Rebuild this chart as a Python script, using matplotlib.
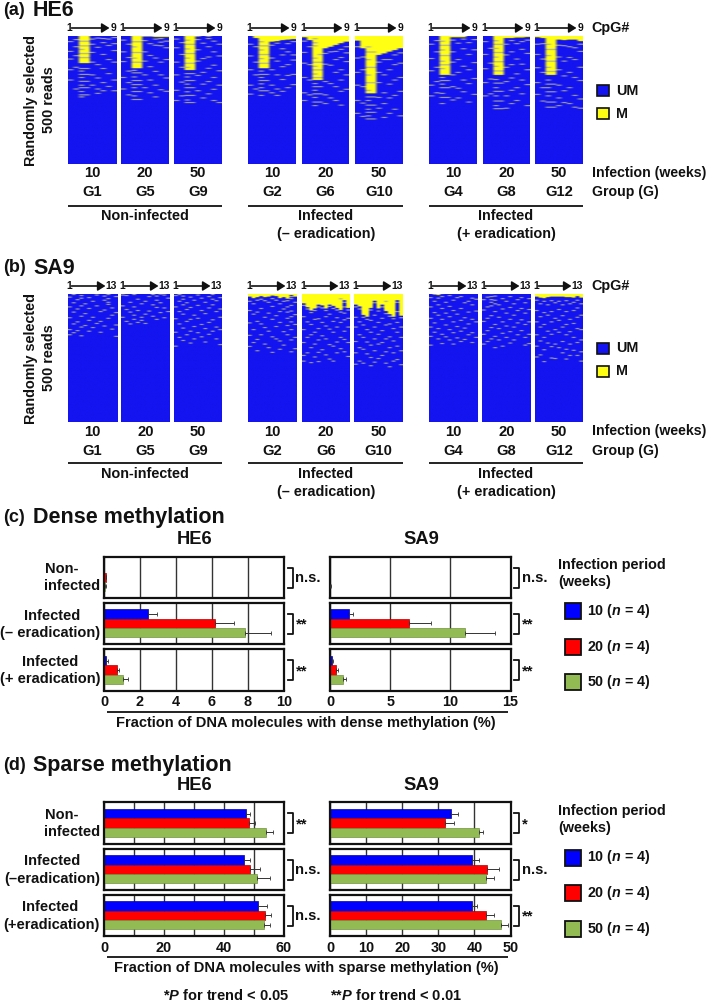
import numpy as np
import matplotlib
matplotlib.use("Agg")
import matplotlib.pyplot as plt
from matplotlib.colors import ListedColormap
from matplotlib.patches import Rectangle

plt.rcParams['font.family'] = ['Liberation Sans', 'DejaVu Sans']
plt.rcParams['font.weight'] = 'bold'
plt.rcParams['mathtext.fontset'] = 'custom'
plt.rcParams['mathtext.rm'] = 'Liberation Sans:bold'
plt.rcParams['mathtext.bf'] = 'Liberation Sans:bold'
plt.rcParams['mathtext.it'] = 'Liberation Sans:bold:italic'

W, H = 709, 1002
BLUE, MIXED, YELLOW = '#1414f0', '#b4b498', '#ffff14'
C10, C20, C50 = '#0000ff', '#ff0000', '#92bb54'
TXT = '#111111'

# ---------- data: bisulfite read maps (read index, 0-499, per CpG) ----------
weeks = ['10', '20', '50']
groups_nonif = ['G1', 'G5', 'G9']
groups_inf = ['G2', 'G6', 'G10']
groups_erad = ['G4', 'G8', 'G12']

# solid methylated depth from the top, per CpG
he6_depth = {
 'G1': [0, 0, 106, 106, 0, 0, 0, 0, 0],
 'G5': [0, 0, 126, 126, 2, 2, 4, 4, 4],
 'G9': [0, 0, 133, 133, 2, 0, 2, 0, 0],
 'G2': [0, 8, 126, 126, 22, 20, 16, 14, 12],
 'G6': [5, 16, 172, 172, 48, 42, 35, 28, 22],
 'G10': [18, 48, 224, 224, 74, 68, 61, 55, 48],
 'G4': [0, 0, 152, 152, 5, 5, 5, 0, 0],
 'G8': [0, 0, 152, 152, 8, 8, 6, 6, 4],
 'G12': [5, 8, 152, 152, 14, 16, 14, 14, 20],
}
# scattered methylated reads, per CpG (inside a solid block they read as gaps)
he6_sparse = {
 'G1': [[20,58,88,130,170],[12,40,75,120,205],[18,36,50,66,82,125,135,148,160,175,190,200,215,228,236],
        [18,36,66,82,125,148,175,200,228],[10,30,62,100,150,190],[6,42,110,162,205,222],[8,24,70,125,180,212],[10,35,90,145,195],[4,28,55,100,170,212]],
 'G5': [[14,60,98,160,205],[30,82,135,180,228],[20,40,62,84,100,132,142,158,172,188,200,215,232,246],
        [20,62,100,142,172,188,215,246],[16,60,96,150,200],[28,74,118,170,220],[10,34,84,136,190,236],[8,22,36,100,150,208],[18,44,90,162,214]],
 'G9': [[10,44,100,150,210,250],[24,70,120,178,232],[14,30,48,66,84,104,120,145,158,172,186,200,216,230,248,258],
        [30,66,104,145,172,200,230,258],[12,52,96,152,212],[26,86,140,186,240],[8,40,80,124,176,224],[18,60,112,160,206,250],[30,76,134,190,258]],
 'G2': [[30,76,130,190,225],[40,100,150,205],[20,36,52,70,86,104,135,148,160,172,185,200,212,230],
        [36,70,104,148,172,212],[34,84,130,190,220],[26,96,150,205,230],[48,72,118,168,214],[28,60,110,152,200],[20,72,92,148,188]],
 'G6': [[18,62,104,160,220,250],[40,110,170,228],[8,24,36,84,100,116,130,146,160,184,196,210,224,238,256,270],
        [70,100,130,160,196,224,256],[66,108,176,228,262],[60,112,184,240],[58,90,140,196,250],[50,82,130,170,214,268],[40,64,98,150,206]],
 'G10': [[40,84,140,190,250,300],[80,130,196,260,312],[40,60,90,120,150,180,210,236,250,268,284,296,310,322],
         [60,120,180,236,268,296,322],[100,140,180,238,280],[90,150,220,262,316],[90,130,186,240,300],[72,110,170,230,284],[64,104,160,214,310]],
 'G4': [[30,86,134,190,232],[16,60,120,176,220],[18,34,52,74,96,110,125,160,172,186,200,222,238,262],
        [34,74,110,172,200,238],[14,60,100,150,196,248],[26,90,140,202,240],[10,48,116,170,216],[24,70,130,184,256],[12,52,102,164,226]],
 'G8': [[20,70,126,180,232],[46,104,166,224],[16,30,46,62,80,98,116,134,168,182,200,214,232,252,270,282],
        [30,62,98,134,182,214,252,282],[30,72,120,176,232,280],[16,60,110,162,210,262],[28,88,146,200,250],[20,50,108,170,224],[14,66,130,188,270]],
 'G12': [[30,70,122,180,226],[28,88,140,200,252],[30,50,74,96,120,136,170,186,200,216,232,256,276],
         [50,96,136,186,216,256,276],[34,80,130,190,240,270],[36,96,154,212,258],[40,82,140,200,262],[44,90,160,230,276],[30,58,120,172,244,280]],
}
sa9_depth = {
 'G1': [0]*13, 'G5': [0]*13, 'G9': [0]*13,
 'G2': [14, 20, 16, 12, 16, 14, 10, 12, 20, 16, 22, 8, 14],
 'G6': [40, 55, 68, 60, 45, 48, 60, 45, 50, 58, 66, 28, 58],
 'G10': [45, 52, 85, 92, 58, 30, 60, 45, 70, 82, 92, 28, 88],
 'G4': [3, 6, 8, 4, 0, 0, 2, 0, 3, 2, 0, 3, 2],
 'G8': [2, 0, 4, 2, 2, 0, 2, 0, 0, 0, 2, 0, 2],
 'G12': [14, 18, 20, 16, 14, 14, 14, 14, 16, 16, 18, 12, 18],
}
sa9_sparse = {
 'G1': [[14,52,94,140,160],[4,36,72,118,152],[24,60,110,144],[8,18,48,88,130,164],[40,78,124],[16,58,104,146],[30,92,132],[6,48,116],[70,108,150],[10,26,64,126],[4,20,34,42,96],[56,84,138],[12,74,122,166]],
 'G5': [[6,48,92],[8,62,108],[34,72,118],[4,52,84,100],[22,66,112],[40,92,104],[30,80,116],[12,68],[4,44,88],[10,26,54,100],[2,36,74],[6,56,94],[18,70]],
 'G9': [[8,52,98,150,204],[4,30,70,118,170],[10,22,44,80,134,182],[36,62,108,160],[14,54,100,146,192],[26,84,128,176],[6,46,96,152],[18,66,120,168],[34,78,136,188],[12,56,112,158],[4,22,44,102,146],[28,70,130,176],[16,60,92,140,198]],
 'G2': [[30,66,114,162,205],[40,80,140,190],[26,72,108,178,222],[22,58,118,160],[28,92,132,196],[34,76,146,210],[20,50,100,168,228],[26,86,128,176],[40,70,112,184,216],[30,60,148,200],[28,52,72,96,124,160],[12,20,46,68,90,110,140,180,226],[34,82,120,170,214]],
 'G6': [[46,90,140,190,240,262],[60,110,170,230],[74,120,160,210,268],[66,100,150,196,246],[52,98,136,180,228,264],[56,112,164,218],[66,90,126,176,238],[50,80,138,198,254],[58,108,150,204,262],[64,94,130,188,230],[20,72,112,170,214],[34,52,76,102,146,178,226],[64,96,130,190,244]],
 'G10': [[52,92,130,186,230,274],[60,110,160,210,262],[92,122,170,216,270],[100,140,188,234],[64,104,150,200,248,280],[36,84,130,176,222,266],[68,112,158,196,252],[52,96,144,190,240],[30,78,122,176,226,270],[88,118,168,210,284],[98,136,184,230,262],[34,70,112,150,204,256],[94,130,170,222,276]],
 'G4': [[16,52,96,130,166,200],[30,74,114,150],[18,44,84,136,176],[12,58,100,158,194],[34,76,122,168],[8,50,90,140,180],[26,66,110,152,196],[16,80,128,172],[12,58,104,146,186],[36,94,134,178],[30,72,118,160],[18,44,100,152,190],[22,68,110,170]],
 'G8': [[24,64,108,158,196],[14,52,96,144,186],[12,24,34,48,86,132,176],[10,26,40,70,120,166,210],[44,92,136,180],[20,60,110,154,204],[30,76,126,170],[12,54,100,148,192],[40,84,130,180],[24,66,114,160],[16,58,102,144],[36,76,120,170,200],[20,62,110,158,194]],
 'G12': [[26,66,110,160,204,246],[40,90,130,184,238],[30,74,120,170,218,264],[44,84,146,192],[28,70,110,158,206,250],[36,96,140,196,252],[30,62,104,150,210],[44,86,130,186,230],[28,70,120,160,216,254],[40,100,148,196,240],[34,66,116,170,220],[26,56,92,136,190,240],[40,84,140,180,226,262]],
}

# ---------- data: bar charts ----------
conditions = ['Non-infected', 'Infected (- eradication)', 'Infected (+ eradication)']
dense_he6 = [[0.0, 0.09, 0.06], [2.45, 6.15, 7.85], [0.13, 0.72, 1.08]]
dense_he6_err = [[0.0, 0.04, 0.03], [0.52, 1.05, 1.4], [0.07, 0.13, 0.27]]
dense_sa9 = [[0.0, 0.0, 0.03], [1.55, 6.6, 11.2], [0.2, 0.47, 1.05]]
dense_sa9_err = [[0.0, 0.0, 0.02], [0.35, 1.8, 2.55], [0.05, 0.18, 0.25]]
sparse_he6 = [[47.2, 48.4, 53.9], [46.7, 48.6, 50.9], [51.4, 53.6, 53.2]]
sparse_he6_err = [[1.5, 2.0, 2.4], [2.0, 3.4, 4.3], [2.8, 2.1, 2.1]]
sparse_sa9 = [[33.4, 31.9, 41.2], [39.4, 43.5, 43.1], [39.3, 43.1, 47.4]]
sparse_sa9_err = [[2.1, 2.4, 1.1], [1.9, 3.4, 2.3], [1.4, 2.3, 2.0]]
dense_sig_he6 = ['n.s.', '**', '**']
dense_sig_sa9 = ['n.s.', '**', '**']
sparse_sig_he6 = ['**', 'n.s.', 'n.s.']
sparse_sig_sa9 = ['*', 'n.s.', '**']

fig = plt.figure(figsize=(W / 100, H / 100), dpi=100)
bg = fig.add_axes([0, 0, 1, 1])
bg.set_xlim(0, W); bg.set_ylim(H, 0); bg.axis('off')

def axpx(x0, y0, x1, y1, **kw):
    return fig.add_axes([x0 / W, 1 - y1 / H, (x1 - x0) / W, (y1 - y0) / H], **kw)

def T(x, y, s, size=10.2, ha='center', **kw):
    kw.setdefault('color', TXT)
    bg.text(x, y, s, fontsize=size, ha=ha, va='center', fontweight='bold', **kw)

def L(x0, x1, y, lw=1.3):
    bg.plot([x0, x1], [y, y], color='#111111', lw=lw, solid_capstyle='butt')

cmap = ListedColormap([BLUE, MIXED, YELLOW])

def read_map(depth, sparse):
    m = np.zeros((500, len(depth)))
    for j, d in enumerate(depth):
        m[:d, j] = 1
    for j, reads in enumerate(sparse):
        for r in reads:
            m[r:r + (5 if r < depth[j] else 4), j] = 0.5
    return m

panels_x = [(68, 116), (121, 169), (174, 222), (248, 296), (302, 349), (355, 403),
            (429, 477), (483, 530), (535, 583)]
panels_xb = [(68, 117), (121, 170), (174, 222), (248, 297), (302, 350), (354, 403),
             (429, 478), (482, 531), (535, 583)]
all_groups = groups_nonif + groups_inf + groups_erad

def heat_block(xs, y0, y1, depth, sparse, last):
    for (x0, x1), g in zip(xs, all_groups):
        ax = axpx(x0, y0, x1, y1)
        ax.imshow(read_map(depth[g], sparse[g]), cmap=cmap, vmin=0, vmax=1, aspect='auto',
                  interpolation='hanning', interpolation_stage='rgba')
        ax.axis('off')
        nine = last == '9'
        T(x0 + 1.5, y0 - 8, '1', size=7.4)
        T(x1 - (2.5 if nine else 5.5), y0 - 8, last, size=7.4)
        bg.annotate('', xy=(x1 - (6.5 if nine else 11.5), y0 - 8), xytext=(x0 + 3.5, y0 - 8),
                    arrowprops=dict(arrowstyle='-|>,head_width=0.28,head_length=0.45', color='#111111', lw=1.2,
                                    shrinkA=0, shrinkB=0))

def labels_block(xs, ywk, ygr, yline, ylab, ylab2, leg_um, leg_m):
    names = all_groups
    for i, ((x0, x1), g) in enumerate(zip(xs, names)):
        T((x0 + x1) / 2, ywk, weeks[i % 3], size=10.6)
        T((x0 + x1) / 2, ygr, g, size=10.6)
    L(68, 222, yline); L(248, 403, yline); L(429, 583, yline)
    T(145, ylab, 'Non-infected', size=10.4)
    T(326, ylab, 'Infected', size=10.4)
    T(326, ylab2, '(\u2013 eradication)', size=10.4)
    T(506, ylab, 'Infected', size=10.4)
    T(506, ylab2, '(+ eradication)', size=10.4)
    T(592, ywk, 'Infection (weeks)', size=10.2, ha='left')
    T(592, ygr, 'Group (G)', size=10.2, ha='left')
    for yy, c, s in ((leg_um, BLUE, 'UM'), (leg_m, YELLOW, 'M')):
        bg.add_patch(Rectangle((597, yy - 5.5), 12, 11, fc=c, ec='#111111', lw=1.2))
        T(616, yy, s, size=10.4, ha='left')

# ---- (a) and (b)
T(3, 10, '(a)', size=13, ha='left'); T(33, 10, 'HE6', size=15.5, ha='left')
heat_block(panels_x, 36, 164, he6_depth, he6_sparse, '9')
T(591, 28, 'CpG#', size=10.4, ha='left')
T(31, 100, 'Randomly selected', size=10.4, rotation=90); T(49, 100, '500 reads', size=10.4, rotation=90)
labels_block(panels_x, 173, 192, 205.5, 216, 233.5, 90.5, 113.5)

T(3, 268, '(b)', size=13, ha='left'); T(33, 268, 'SA9', size=15.5, ha='left')
heat_block(panels_xb, 294, 422.5, sa9_depth, sa9_sparse, '13')
T(591, 286, 'CpG#', size=10.4, ha='left')
T(31, 358, 'Randomly selected', size=10.4, rotation=90); T(49, 358, '500 reads', size=10.4, rotation=90)
labels_block(panels_xb, 431.5, 451, 463, 474, 492, 348, 371)

# ---- bars
colors = [C10, C20, C50]
edges = ['#0000b0', '#b00000', '#6f9440']

def bar_row(x0, x1, y0, y1, vals, errs, xmax, grid, ticks, sig, label=True):
    ax = axpx(x0, y0, x1, y1)
    ax.set_xlim(0, xmax); ax.set_ylim(3.2, -1.25)
    ax.xaxis.set_ticks(grid)
    ax.grid(axis='x', color='#333333', lw=1.0, zorder=0)
    ax.set_axisbelow(True)
    ax.set_yticks([])
    for i, (v, e, c, ec) in enumerate(zip(vals, errs, colors, edges)):
        ax.barh(i, v, height=1.0, color=c, edgecolor=ec, lw=0.5, zorder=2)
        if e > 0:
            ax.errorbar(v, i, xerr=[[0], [e]], color='#333333', lw=0.7, capsize=1.4, capthick=0.6, zorder=3)
    for s in ax.spines.values():
        s.set_linewidth(1.6); s.set_color('#111111')
    ax.tick_params(axis='x', length=0, pad=3.5, labelsize=10.4, labelcolor=TXT)
    if ticks is None:
        ax.set_xticklabels([])
    else:
        ax.set_xticks(ticks[0])
        ax.set_xticks(grid, minor=True)
        ax.grid(axis='x', which='minor', color='#333333', lw=1.0)
        ax.tick_params(axis='x', which='minor', length=0)
        ax.set_xticklabels(ticks[1], fontweight='bold')
    # bracket
    bx = x1 + 3.5
    ym0, ym1 = y0 + 11, y0 + 31
    bg.plot([bx, bx + 5, bx + 5, bx], [ym0, ym0, ym1, ym1], color='#111111', lw=1.3)
    if sig == 'n.s.':
        T(bx + 8, (ym0 + ym1) / 2, sig, size=10.6, ha='left')
    else:
        T(bx + 8, (ym0 + ym1) / 2 + 1, sig, size=10.6, ha='left')

def legend_block(y_title, ys):
    T(558, y_title, 'Infection period', size=10.4, ha='left')
    T(558, y_title + 17, '(weeks)', size=10.4, ha='left')
    for yy, c, w in zip(ys, colors, weeks):
        bg.add_patch(Rectangle((565, yy), 16, 16, fc=c, ec='#111111', lw=1.3))
        T(587, yy + 8, w + ' ($\\mathit{n}$ = 4)', size=10.3, ha='left')

def row_labels(ys, minus, plus):
    T(45, ys[0], 'Non-', size=10.5, ha='left')
    T(100, ys[1], 'infected', size=10.5, ha='right')
    T(52, ys[2], 'Infected', size=10.5)
    T(100, ys[3], minus, size=10.5, ha='right')
    T(50, ys[4], 'Infected', size=10.5)
    T(100, ys[5], plus, size=10.5, ha='right')

# (c)
T(3, 518, '(c)', size=13, ha='left'); T(33, 518, 'Dense methylation', size=15.5, ha='left')
T(195, 540, 'HE6', size=13.2); T(421, 540, 'SA9', size=13.2)
rows_c = [(556.5, 597.5), (602.5, 644), (649, 690.5)]
for i, (y0, y1) in enumerate(rows_c):
    tk = (None if i < 2 else ([0, 2, 4, 6, 8, 10], ['0', '2', '4', '6', '8', '10']))
    bar_row(104, 284, y0, y1, dense_he6[i], dense_he6_err[i], 10, [0, 2, 4, 6, 8, 10], tk, dense_sig_he6[i])
    tk = (None if i < 2 else ([0, 5, 10, 15], ['0', '5', '10', '15']))
    bar_row(330, 510.5, y0, y1, dense_sa9[i], dense_sa9_err[i], 15, [0, 5, 10, 15], tk, dense_sig_sa9[i])
row_labels([569, 586, 615.5, 633, 662, 679], '(\u2013 eradication)', '(+ eradication)')
L(107, 508, 711.5)
T(306, 722.5, 'Fraction of DNA molecules with dense methylation (%)', size=10.5)
legend_block(565, [603, 638.5, 674])

# (d)
T(3, 765, '(d)', size=13, ha='left'); T(33, 765, 'Sparse methylation', size=15.5, ha='left')
T(195, 785.5, 'HE6', size=13.2); T(421, 785.5, 'SA9', size=13.2)
rows_d = [(802, 843.5), (848.5, 889.5), (894.5, 936)]
g1 = list(range(0, 61, 10)); g2 = list(range(0, 51, 10))
for i, (y0, y1) in enumerate(rows_d):
    tk = (None if i < 2 else ([0, 20, 40, 60], ['0', '20', '40', '60']))
    bar_row(104, 284, y0, y1, sparse_he6[i], sparse_he6_err[i], 60, g1, tk, sparse_sig_he6[i])
    tk = (None if i < 2 else (g2, [str(v) for v in g2]))
    bar_row(330, 510.5, y0, y1, sparse_sa9[i], sparse_sa9_err[i], 50, g2, tk, sparse_sig_sa9[i])
row_labels([815, 832, 861, 879, 907, 925], '(\u2013eradication)', '(+eradication)')
L(107, 508, 956.5)
T(306, 968, 'Fraction of DNA molecules with sparse methylation (%)', size=10.5)
legend_block(811, [849.5, 885, 921])

T(163, 996, '*$\\mathit{P}$ for trend < 0.05', size=10.5, ha='left')
T(330, 996, '**$\\mathit{P}$ for trend < 0.01', size=10.5, ha='left')

fig.savefig('out.png', dpi=100)
